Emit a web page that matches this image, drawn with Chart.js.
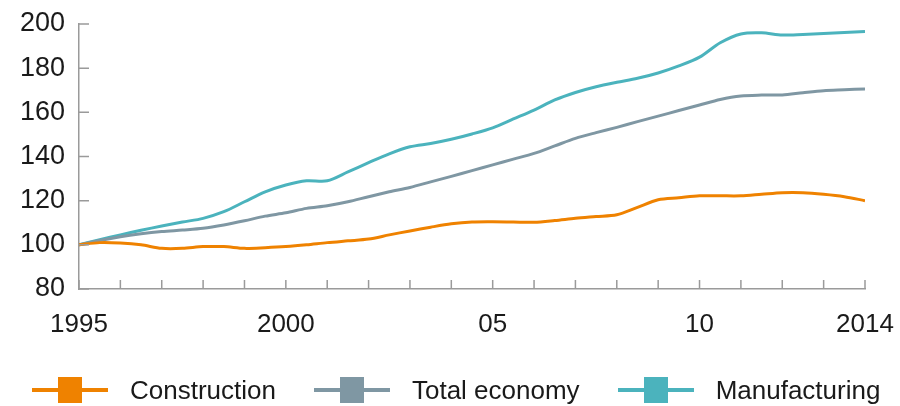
<!DOCTYPE html>
<html lang="en">
<head>
<meta charset="utf-8">
<title>Labour productivity index</title>
<script src="https://cdn.jsdelivr.net/npm/chart.js@4/dist/chart.umd.min.js"></script>
<style>
  html, body { margin: 0; padding: 0; background: #fff; }
  #wrap { position: relative; width: 900px; height: 406px; }
  #legend {
    position: absolute; left: 32px; top: 375px; height: 30px;
    display: flex; align-items: center; white-space: nowrap;
    font-family: "Liberation Sans", Arial, sans-serif; font-size: 26px; color: #1a1a1a;
  }
  .item { display: flex; align-items: center; margin-right: 38px; flex: none; }
  .mk { position: relative; width: 76px; height: 4px; margin-right: 22px; }
  .mk span { position: absolute; left: 26px; top: -11px; width: 24px; height: 26px; }
</style>
</head>
<body>
<div id="wrap">
  <canvas id="chart" width="900" height="406"></canvas>
  <div id="legend"></div>
</div>

<script>
// half-yearly points, index 1995 = 100
var periods = [1995, 1995.5, 1996, 1996.5, 1997, 1997.5, 1998, 1998.5, 1999, 1999.5,
               2000, 2000.5, 2001, 2001.5, 2002, 2002.5, 2003, 2003.5, 2004, 2004.5,
               2005, 2005.5, 2006, 2006.5, 2007, 2007.5, 2008, 2008.5, 2009, 2009.5,
               2010, 2010.5, 2011, 2011.5, 2012, 2012.5, 2013, 2013.5, 2014];

var construction = [100, 101, 100.8, 100, 98.4, 98.4, 99.2, 99.2, 98.4, 98.7,
                    99.2, 100, 101, 101.8, 102.6, 104.5, 106.3, 108, 109.5, 110.3,
                    110.4, 110.3, 110.2, 111, 112, 112.8, 113.6, 117, 120.4, 121.3,
                    122.2, 122.2, 122.2, 122.9, 123.6, 123.6, 122.9, 121.8, 120];

var totalEconomy = [100, 102, 103.7, 105, 106, 106.7, 107.5, 109, 110.9, 113,
                    114.5, 116.5, 117.7, 119.5, 121.8, 124, 126, 128.5, 131, 133.6,
                    136.2, 138.8, 141.4, 144.8, 148.2, 150.8, 153.2, 155.8, 158.3, 160.8,
                    163.3, 165.8, 167.4, 167.8, 167.9, 168.9, 169.8, 170.2, 170.6];

var manufacturing = [100, 102.3, 104.5, 106.6, 108.5, 110.3, 112, 115, 119.5, 124,
                     127.1, 129, 129, 133, 137.2, 141.2, 144.4, 145.9, 147.8, 150.2,
                     153, 157, 161, 165.6, 169, 171.6, 173.6, 175.4, 177.8, 181,
                     185, 191.5, 195.5, 196, 195, 195.3, 195.7, 196.1, 196.6];

var seriesNames = ['Construction', 'Total economy', 'Manufacturing'];
var seriesColors = ['#ef8200', '#7f97a3', '#4bb3bd'];

var xTickYears = [1995, 2000, 2005, 2010, 2014];
var xTickText = ['1995', '2000', '05', '10', '2014'];

var fontFamily = '"Liberation Sans", Arial, sans-serif';
var textColor = '#1a1a1a';
var axisColor = '#9a9a9a';

// short tick marks drawn inside the plot, as in the original
var innerTicks = {
  id: 'innerTicks',
  afterDraw: function(chart) {
    var ctx = chart.ctx, x = chart.scales.x, y = chart.scales.y, a = chart.chartArea;
    ctx.save();
    ctx.strokeStyle = axisColor;
    ctx.lineWidth = 1.5;
    ctx.beginPath();
    y.ticks.forEach(function(t) {
      var py = y.getPixelForValue(t.value);
      ctx.moveTo(a.left, py);
      ctx.lineTo(a.left + 10, py);
    });
    x.ticks.forEach(function(t) {
      var px = x.getPixelForValue(t.value);
      ctx.moveTo(px, a.bottom);
      ctx.lineTo(px, a.bottom - 9);
    });
    ctx.stroke();
    ctx.restore();
  }
};

var datasets = [construction, totalEconomy, manufacturing].map(function(vals, i) {
  return {
    label: seriesNames[i],
    data: vals,
    borderColor: seriesColors[i],
    backgroundColor: seriesColors[i],
    borderWidth: 3,
    pointRadius: 0,
    tension: 0.3,
    fill: false
  };
});

new Chart(document.getElementById('chart'), {
  type: 'line',
  data: { labels: periods, datasets: datasets },
  plugins: [innerTicks],
  options: {
    responsive: false,
    animation: false,
    layout: { padding: { top: 24, right: 35, left: 0, bottom: 0 } },
    plugins: { legend: { display: false }, tooltip: { enabled: false } },
    scales: {
      x: {
        type: 'linear',
        min: 1995, max: 2014,
        grid: { display: false, drawTicks: false },
        border: { display: true, color: axisColor, width: 1.5 },
        afterFit: function(s) { s.height = 117; s.paddingLeft = 0; s.paddingRight = 0; },
        afterBuildTicks: function(s) {
          var t = [];
          for (var yr = 1995; yr <= 2014; yr++) t.push({ value: yr });
          s.ticks = t;
        },
        ticks: {
          autoSkip: false, maxRotation: 0, padding: 20,
          color: textColor,
          font: { family: fontFamily, size: 26 },
          callback: function(v) {
            var k = xTickYears.indexOf(v);
            return k >= 0 ? xTickText[k] : '';
          }
        }
      },
      y: {
        min: 80, max: 200,
        grid: { display: false, drawTicks: false },
        border: { display: true, color: axisColor, width: 1.5 },
        afterFit: function(s) { s.width = 79; s.paddingTop = 0; s.paddingBottom = 0; },
        ticks: {
          stepSize: 20, padding: 14,
          color: textColor,
          font: { family: fontFamily, size: 27 }
        }
      }
    }
  }
});

// legend: line with a square marker, then the name
var legend = document.getElementById('legend');
seriesNames.forEach(function(name, i) {
  var item = document.createElement('div');
  item.className = 'item';
  var mk = document.createElement('div');
  mk.className = 'mk';
  mk.style.background = seriesColors[i];
  var sq = document.createElement('span');
  sq.style.background = seriesColors[i];
  mk.appendChild(sq);
  var txt = document.createElement('div');
  txt.textContent = name;
  item.appendChild(mk);
  item.appendChild(txt);
  legend.appendChild(item);
});
</script>
</body>
</html>
